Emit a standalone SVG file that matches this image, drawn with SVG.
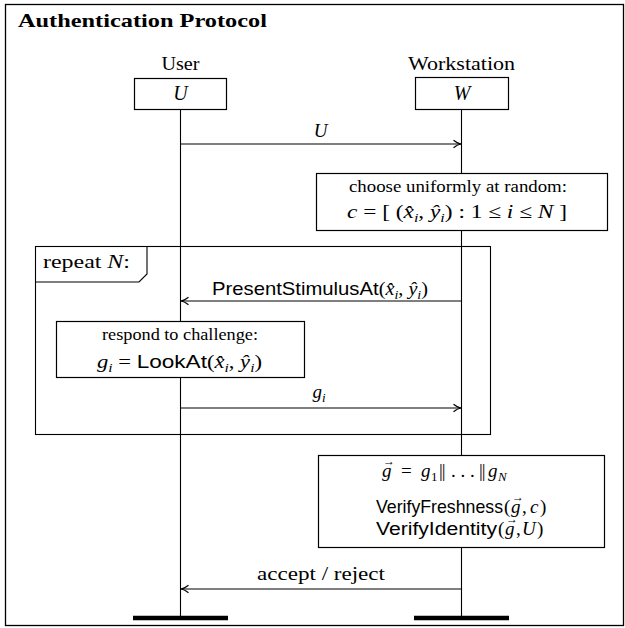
<svg xmlns="http://www.w3.org/2000/svg" width="625" height="628" viewBox="0 0 625 628">
<style>
text{font-family:"Liberation Serif","DejaVu Serif",serif;fill:#000}
.t{font-size:19px}
.sm{font-size:16px}
.it{font-style:italic}
.sans{font-family:"Liberation Sans","DejaVu Sans",sans-serif}
.sub{font-size:13px}
.vec{font-size:12px}
.box{fill:#fff;stroke:#000;stroke-width:1.2}
.life{stroke:#000;stroke-width:1.1}
.msg{stroke:#000;stroke-width:1.1;fill:none;marker-end:url(#arr)}
.bar{stroke:#000;stroke-width:4.5}
</style>
<defs>
<marker id="arr" markerUnits="userSpaceOnUse" viewBox="-10 -5 12 10" refX="0" refY="0" markerWidth="12" markerHeight="10" orient="auto">
<path d="M-7.5,-3.8 Q-3,-0.4 0,0 Q-3,0.4 -7.5,3.8" fill="none" stroke="#000" stroke-width="1.2"/>
</marker>
</defs>
<rect x="0" y="0" width="625" height="628" fill="#fff"/>
<rect x="5.5" y="4.5" width="618" height="621" fill="none" stroke="#000" stroke-width="1.3"/>
<text x="18" y="27" font-size="19" font-weight="bold" textLength="249" lengthAdjust="spacingAndGlyphs">Authentication Protocol</text>

<g id="lifelines">
<line class="life" x1="180.5" y1="109" x2="180.5" y2="618"/>
<line class="life" x1="461.5" y1="110" x2="461.5" y2="618"/>
<line class="bar" x1="133" y1="618" x2="228" y2="618"/>
<line class="bar" x1="414" y1="618" x2="509" y2="618"/>
</g>

<g id="user">
<text class="t" x="180.5" y="70" text-anchor="middle" textLength="38" lengthAdjust="spacingAndGlyphs">User</text>
<rect class="box" x="134.5" y="78.5" width="92" height="31"/>
<text class="it" font-size="20" x="180.5" y="100" text-anchor="middle">U</text>
</g>

<g id="workstation">
<text class="t" x="461.5" y="70" text-anchor="middle" textLength="107" lengthAdjust="spacingAndGlyphs">Workstation</text>
<rect class="box" x="415.5" y="77.5" width="93" height="32"/>
<text class="it" font-size="20" x="462" y="100" text-anchor="middle">W</text>
</g>

<g id="repeat">
<rect x="35.5" y="246.5" width="455" height="188" fill="none" stroke="#000" stroke-width="1.1"/>
<path d="M35.5,282 H139 L147,274 V246.5" fill="none" stroke="#000" stroke-width="1.1"/>
<text class="t" x="43" y="268" textLength="87" lengthAdjust="spacingAndGlyphs">repeat <tspan class="it">N</tspan>:</text>
</g>

<g id="connectors">
<line class="msg" x1="180.5" y1="144" x2="461" y2="144"/>
<text class="t it" x="320.5" y="137" text-anchor="middle">U</text>
<line class="msg" x1="461.5" y1="301" x2="181" y2="301"/>
<text class="t" x="320" y="295" text-anchor="middle" textLength="216" lengthAdjust="spacingAndGlyphs"><tspan class="sans">PresentStimulusAt</tspan>(<tspan class="it">x̂</tspan><tspan class="sub it" dy="4">i</tspan><tspan dy="-4">, </tspan><tspan class="it">ŷ</tspan><tspan class="sub it" dy="4">i</tspan><tspan dy="-4">)</tspan></text>
<line class="msg" x1="180.5" y1="408" x2="461" y2="408"/>
<text class="t it" x="319" y="398" text-anchor="middle">g<tspan class="sub" dy="4">i</tspan></text>
<line class="msg" x1="461.5" y1="589" x2="181" y2="589"/>
<text class="t" x="321" y="580" text-anchor="middle" textLength="128" lengthAdjust="spacingAndGlyphs">accept / reject</text>
</g>

<g id="choose">
<rect class="box" x="316.5" y="173.5" width="291" height="57"/>
<text class="sm" x="458" y="192" text-anchor="middle" textLength="218" lengthAdjust="spacingAndGlyphs">choose uniformly at random:</text>
<text class="t" x="457" y="218" text-anchor="middle" textLength="220" lengthAdjust="spacingAndGlyphs"><tspan class="it">c</tspan> = [ (<tspan class="it">x̂</tspan><tspan class="sub it" dy="4">i</tspan><tspan dy="-4">, </tspan><tspan class="it">ŷ</tspan><tspan class="sub it" dy="4">i</tspan><tspan dy="-4">) : 1 ≤ </tspan><tspan class="it">i</tspan> ≤ <tspan class="it">N</tspan> ]</text>
</g>

<g id="respond">
<rect class="box" x="56.5" y="321.5" width="248" height="56"/>
<text class="sm" x="180" y="340" text-anchor="middle" textLength="156" lengthAdjust="spacingAndGlyphs">respond to challenge:</text>
<text class="t" x="179.5" y="368" text-anchor="middle" textLength="165" lengthAdjust="spacingAndGlyphs"><tspan class="it">g</tspan><tspan class="sub it" dy="4">i</tspan><tspan dy="-4"> = </tspan><tspan class="sans">LookAt</tspan>(<tspan class="it">x̂</tspan><tspan class="sub it" dy="4">i</tspan><tspan dy="-4">, </tspan><tspan class="it">ŷ</tspan><tspan class="sub it" dy="4">i</tspan><tspan dy="-4">)</tspan></text>
</g>

<g id="verify">
<rect class="box" x="318.5" y="455.5" width="286" height="92"/>
<text class="t" y="477"><tspan class="it" x="382">g</tspan><tspan x="401">=</tspan><tspan class="it" x="421">g</tspan><tspan class="sub" x="431" dy="4">1</tspan><tspan x="439" dy="-4" letter-spacing="-1">||</tspan><tspan x="451">. . .</tspan><tspan x="479" letter-spacing="-1">||</tspan><tspan class="it" x="488">g</tspan><tspan class="sub it" x="498" dy="4">N</tspan></text>
<text class="vec" x="389" y="465" text-anchor="middle">→</text>
<text class="t" y="513"><tspan class="sans" x="376" textLength="127" lengthAdjust="spacingAndGlyphs">VerifyFreshness</tspan><tspan x="504">(</tspan><tspan class="it" x="511">g</tspan><tspan x="522">,</tspan><tspan class="it" x="530">c</tspan><tspan x="540">)</tspan></text>
<text class="vec" x="518" y="501" text-anchor="middle">→</text>
<text class="t" y="535"><tspan class="sans" font-size="18" x="376" textLength="121" lengthAdjust="spacingAndGlyphs">VerifyIdentity</tspan><tspan x="498">(</tspan><tspan class="it" x="505">g</tspan><tspan x="516">,</tspan><tspan class="it" x="522">U</tspan><tspan x="537">)</tspan></text>
<text class="vec" x="512" y="523" text-anchor="middle">→</text>
</g>
</svg>
